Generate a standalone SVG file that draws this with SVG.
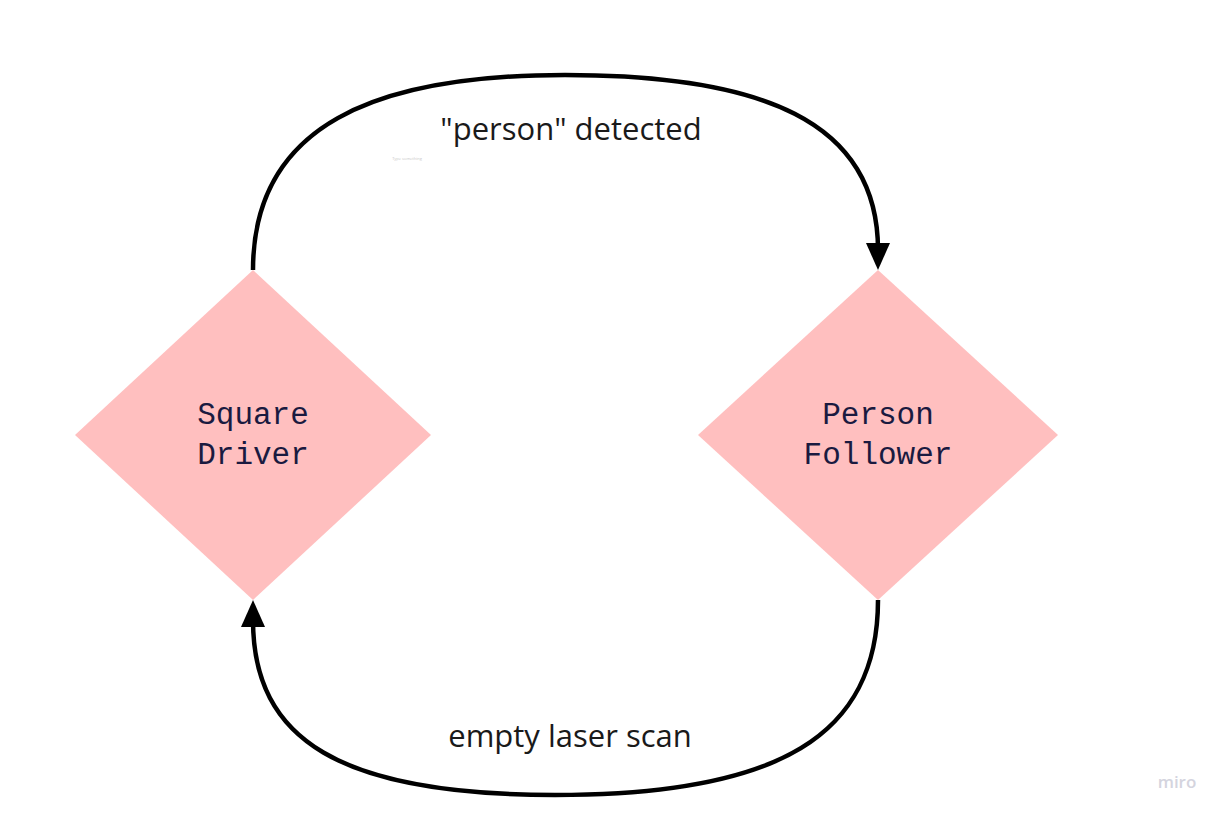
<svg xmlns="http://www.w3.org/2000/svg" width="1224" height="816" viewBox="0 0 1224 816">
<defs>
<style>
.node{fill:#ffbfbf}
.lbl{font-family:"Liberation Mono","DejaVu Sans Mono",monospace;font-size:31px;fill:#1a1a40;text-anchor:middle}
.edge{fill:none;stroke:#000;stroke-width:4.5}
.elbl{font-family:"Open Sans","Noto Sans",sans-serif;font-size:31px;fill:#1a1a1a;text-anchor:middle}
</style>
</defs>
<rect width="1224" height="816" fill="#fff"/>
<g id="connectors">
<path class="edge" d="M253,270 C253,125 375,75 565,75 C760,75 878,120 878,250"/>
<path d="M866,243 L878,270 L890,243 Z" fill="#000"/>
<path class="edge" d="M878,600 C878,735 780,795 555,795 C340,795 253,740 253,620"/>
<path d="M241,627 L253,600 L265,627 Z" fill="#000"/>
<text class="elbl" x="571" y="140">"person" detected</text>
<text class="elbl" x="570" y="747">empty laser scan</text>
<text x="407" y="160" font-family="Open Sans, sans-serif" font-size="4" fill="#c8c8c8" text-anchor="middle">Type something</text>
</g>
<g id="square-driver">
<polygon class="node" points="253,270 431,435 253,600 75,435"/>
<text class="lbl" x="253" y="424">Square</text>
<text class="lbl" x="253" y="464">Driver</text>
</g>
<g id="person-follower">
<polygon class="node" points="878,270 1058,435 878,600 698,435"/>
<text class="lbl" x="878" y="424">Person</text>
<text class="lbl" x="878" y="464">Follower</text>
</g>
<text x="1177" y="788" font-family="Open Sans, sans-serif" font-size="17" fill="#d4d4de" text-anchor="middle" font-weight="600">miro</text>
</svg>
